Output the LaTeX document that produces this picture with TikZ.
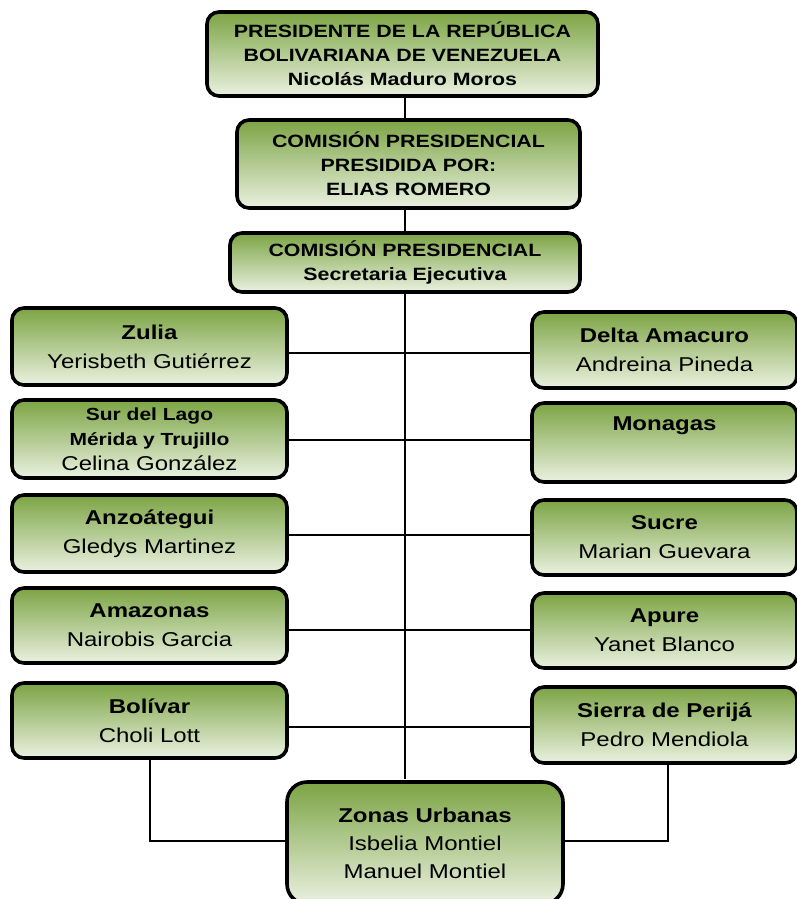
\documentclass[tikz,border=0pt]{standalone}
\usepackage{fontspec}
\setmainfont{Liberation Sans}[FakeStretch=1.2]
\usetikzlibrary{backgrounds}
\definecolor{gtop}{RGB}{124,164,68}
\definecolor{gbot}{RGB}{234,241,224}
\tikzset{
  box/.style={draw=black, line width=3.6pt, rounded corners=12pt,
    top color=gtop, bottom color=gbot, align=center, inner sep=0pt,
    text=black},
  conn/.style={draw=black, line width=1.1pt},
  topfont/.style={font=\fontsize{17.8}{24}\selectfont\bfseries},
  mainfont/.style={font=\fontsize{20}{29}\selectfont},
}
\begin{document}
\begin{tikzpicture}[x=1pt,y=-1pt]
\useasboundingbox (0,0) rectangle (796,899);
% top boxes
\node[box, topfont, minimum width=391pt, minimum height=84pt] (pres) at (402.5,54)
  {PRESIDENTE DE LA REPÚBLICA\\BOLIVARIANA DE VENEZUELA\\Nicolás Maduro Moros};
\node[box, topfont, minimum width=343pt, minimum height=88pt] (com) at (408.5,164)
  {COMISIÓN PRESIDENCIAL\\PRESIDIDA POR:\\ELIAS ROMERO};
\node[box, topfont, minimum width=350pt, minimum height=59pt] (sec) at (405,262.5)
  {COMISIÓN PRESIDENCIAL\\Secretaria Ejecutiva};
% left boxes
\node[box, mainfont, minimum width=275pt, minimum height=77pt] (zulia) at (149.5,346.5)
  {\textbf{Zulia}\\Yerisbeth Gutiérrez};
\node[box, minimum width=275pt, minimum height=78pt, font=\fontsize{17.5}{25}\selectfont] (sur) at (149.5,439)
  {\textbf{Sur del Lago}\\\textbf{Mérida y Trujillo}\\{\fontsize{20}{25}\selectfont Celina González}};
\node[box, mainfont, minimum width=275pt, minimum height=77pt] (anz) at (149.5,533.5)
  {\textbf{Anzoátegui}\\Gledys Martinez};
\node[box, mainfont, minimum width=275pt, minimum height=75pt] (amaz) at (149.5,625.5)
  {\textbf{Amazonas}\\Nairobis Garcia};
\node[box, mainfont, minimum width=275pt, minimum height=75pt] (bol) at (149.5,720.5)
  {\textbf{Bolívar}\\Choli Lott};
% right boxes
\node[box, mainfont, minimum width=265pt, minimum height=76pt] (delta) at (664.5,350)
  {\textbf{Delta Amacuro}\\Andreina Pineda};
\node[box, mainfont, minimum width=265pt, minimum height=79pt] (mon) at (664.5,442.5)
  {\textbf{Monagas}\\\strut};
\node[box, mainfont, minimum width=265pt, minimum height=75pt] (sucre) at (664.5,537.5)
  {\textbf{Sucre}\\Marian Guevara};
\node[box, mainfont, minimum width=265pt, minimum height=75pt] (apure) at (664.5,630.5)
  {\textbf{Apure}\\Yanet Blanco};
\node[box, mainfont, minimum width=265pt, minimum height=76pt] (sierra) at (664.5,725)
  {\textbf{Sierra de Perijá}\\Pedro Mendiola};
% bottom
\node[box, font=\fontsize{20}{28}\selectfont, rounded corners=20pt, minimum width=276pt, minimum height=122pt] (zonas) at (425,843)
  {\textbf{Zonas Urbanas}\\Isbelia Montiel\\Manuel Montiel};
% helper coordinates
\coordinate (c0) at (405,96);
\coordinate (c9) at (405,779);
\coordinate (l1) at (405,353);
\coordinate (l2) at (405,440);
\coordinate (l3) at (405,535);
\coordinate (l4) at (405,630);
\coordinate (l5) at (405,727);
\coordinate (bl) at (150,841);
\coordinate (br) at (668,841);
\begin{pgfonlayer}{background}
\draw[conn] (c0) -- (c9);
\draw[conn] (zulia.east |- l1) -- (delta.west |- l1);
\draw[conn] (sur.east |- l2) -- (mon.west |- l2);
\draw[conn] (anz.east |- l3) -- (sucre.west |- l3);
\draw[conn] (amaz.east |- l4) -- (apure.west |- l4);
\draw[conn] (bol.east |- l5) -- (sierra.west |- l5);
\draw[conn] (bol.south -| bl) -- (bl) -- (zonas.west |- bl);
\draw[conn] (sierra.south -| br) -- (br) -- (zonas.east |- br);
\end{pgfonlayer}
\end{tikzpicture}
\end{document}
